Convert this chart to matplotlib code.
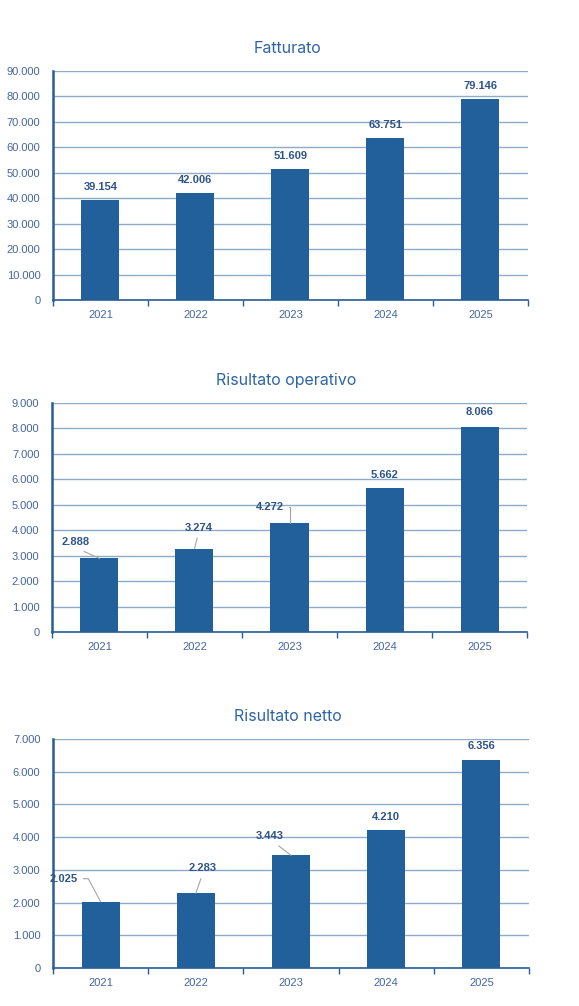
import matplotlib.pyplot as plt
from matplotlib.ticker import FuncFormatter, FixedLocator

anni = ["2021", "2022", "2023", "2024", "2025"]
fatturato = [39154, 42006, 51609, 63751, 79146]
ris_operativo = [2888, 3274, 4272, 5662, 8066]
ris_netto = [2025, 2283, 3443, 4210, 6356]

BAR = "#21609B"
GRID = "#8EABC8"
SPINE = "#2A5D94"
TICK = "#4565A0"
LABEL = "#2F5488"
TITLE = "#2E64A6"


def fmt_it(v, pos=None):
    return f"{int(round(v)):,}".replace(",", ".")


def disegna(ax, titolo, valori, ymax, passo, offsets, connessioni):
    x = list(range(len(anni)))
    ax.bar(x, valori, width=0.4, color=BAR, zorder=3)
    ax.set_xlim(-0.5, len(anni) - 0.5)
    ax.set_ylim(0, ymax)
    ax.set_yticks(range(0, ymax + 1, passo))
    ax.yaxis.set_major_formatter(FuncFormatter(fmt_it))
    ax.grid(axis="y", color=GRID, lw=1, zorder=0)
    ax.set_axisbelow(True)

    # tacche sui confini delle categorie, etichette al centro
    ax.xaxis.set_major_locator(FixedLocator([i - 0.5 for i in range(len(anni) + 1)]))
    ax.xaxis.set_minor_locator(FixedLocator(x))
    ax.set_xticklabels([])
    ax.set_xticklabels(anni, minor=True)
    ax.tick_params(axis="x", which="major", length=4, color=SPINE, width=1)
    ax.tick_params(axis="x", which="minor", length=0, pad=7, labelsize=8, labelcolor=TICK)
    ax.tick_params(axis="y", length=0, pad=9, labelsize=8, labelcolor=TICK)
    for lab in ax.get_xticklabels(minor=True) + ax.get_yticklabels():
        lab.set_fontfamily("Liberation Sans")

    for s in ["top", "right"]:
        ax.spines[s].set_visible(False)
    ax.spines["left"].set_color(SPINE)
    ax.spines["left"].set_linewidth(1.8)
    ax.spines["bottom"].set_color(SPINE)
    ax.spines["bottom"].set_linewidth(1.2)
    ax.spines["left"].set_zorder(4)
    ax.spines["bottom"].set_zorder(4)

    ax.set_title(titolo, fontsize=11.5, color=TITLE, family="Inter", pad=13, x=0.494)

    for i, v in enumerate(valori):
        dx, dy = offsets[i]
        conn = connessioni[i]
        kw = {}
        if conn is not None:
            relpos, style = conn
            kw["arrowprops"] = dict(arrowstyle="-", color="#A6A6A6", lw=0.8,
                                    shrinkA=2, shrinkB=0, relpos=relpos,
                                    connectionstyle=style)
        ax.annotate(fmt_it(v), xy=(i, v), xytext=(dx, dy), textcoords="offset pixels",
                    ha="center", va="center", fontsize=8, fontweight="bold",
                    color=LABEL, family="Liberation Sans", zorder=5, **kw)


fig = plt.figure(figsize=(5.79, 10.06), dpi=100)
ax1 = fig.add_axes([0.0915, 0.7018, 0.8204, 0.2276])
ax2 = fig.add_axes([0.0898, 0.3718, 0.8204, 0.2276])
ax3 = fig.add_axes([0.0915, 0.0378, 0.8221, 0.2276])

disegna(ax1, "Fatturato", fatturato, 90000, 10000,
        [(0, 13)] * 5, [None] * 5)

disegna(ax2, "Risultato operativo", ris_operativo, 9000, 1000,
        [(-24, 16), (4, 21), (-20, 16), (0, 13), (0, 15)],
        [((0.5, 0), "arc3"), ((0.5, 0), "arc3"),
         ((1, 0.5), "angle,angleA=0,angleB=90,rad=0"), None, None])

disegna(ax3, "Risultato netto", ris_netto, 7000, 1000,
        [(-37, 23), (7, 25), (-21, 19), (0, 13), (0, 14)],
        [((1, 0.5), "angle,angleA=0,angleB=118,rad=0"), ((0.5, 0), "arc3"),
         ((0.6, 0), "arc3"), None, None])

fig.savefig("out.png", dpi=100, facecolor="white")
